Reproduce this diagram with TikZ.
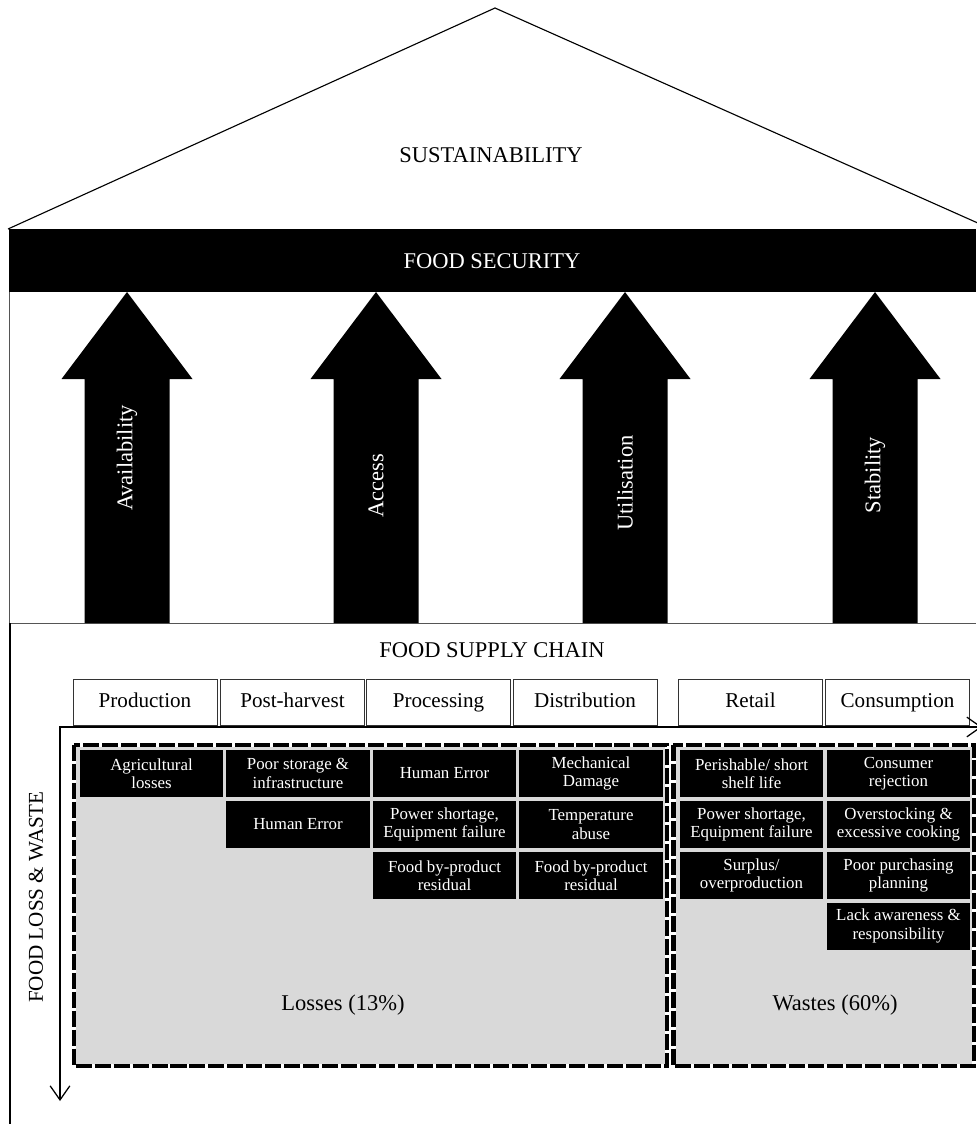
\documentclass[tikz,border=0pt]{standalone}
\usepackage{fontspec}
\setmainfont{Liberation Serif}
\usetikzlibrary{arrows.meta,positioning}

\definecolor{zonegray}{HTML}{D9D9D9}
\definecolor{wallgray}{HTML}{555555}

\tikzset{
  stage/.style={draw=black!80, line width=0.6pt, minimum width=3.6cm, minimum height=1.15cm,
    inner sep=0pt, text height=2ex, text depth=0.45ex, font=\fontsize{15}{17}\selectfont},
  cause/.style={fill=black, text=white, minimum width=3.575cm, minimum height=1.175cm,
    inner sep=0pt, align=center, font=\fontsize{12}{13}\selectfont},
  zone/.style={fill=zonegray, draw=white, line width=3.2pt, outer sep=0pt, inner sep=0pt},
  zoneedge/.style={draw=black, line width=3.2pt, dash pattern=on 11.4pt off 2.1pt},
  pillartext/.style={text=white, rotate=90, font=\fontsize{16}{18}\selectfont},
  title/.style={font=\fontsize{16}{18}\selectfont},
  axis/.style={line width=0.9pt, {Straight Barb[length=10pt,width=14pt]}-{Straight Barb[length=10pt,width=14pt]}},
}

\begin{document}
\begin{tikzpicture}[x=0.025cm, y=-0.025cm]
    \useasboundingbox (0,0) rectangle (976,1124);

    % roof and walls
    \draw[line width=0.8pt] (8,229) -- (495,8) -- (980,224);
    \draw[wallgray, line width=0.7pt] (9,229) -- (9,623) -- (976,623);
    \draw[line width=1.1pt] (10,623) -- (10,1124);
    \node[title] (sust) at (491,155) {SUSTAINABILITY};

    % food security band
    \fill (9,229) rectangle (976,292);
    \node[title, text=white] (fsec) at (492,261) {FOOD SECURITY};

    % pillars
    \foreach \cx/\name/\ty in {127/Availability/458, 376/Access/486, 625/Utilisation/483, 875/Stability/475} {
        \fill (\cx-42.5,623) -- (\cx-42.5,379) -- (\cx-65.5,379) -- (\cx,292)
            -- (\cx+65.5,379) -- (\cx+42.5,379) -- (\cx+42.5,623) -- cycle;
        \node[pillartext] (pillar\cx) at (\cx,\ty) {\name};
    }

    \node[title] (fsc) at (492,650) {FOOD SUPPLY CHAIN};

    % supply chain stages
    \node[stage] (prod) at (145,702) {Production};
    \node[stage] (post) at (292.5,702) {Post-harvest};
    \node[stage] (proc) at (438.5,702) {Processing};
    \node[stage] (dist) at (585,702) {Distribution};
    \node[stage] (retail) at (750.5,702) {Retail};
    \node[stage] (cons) at (897.5,702) {Consumption};

    % loss and waste zones
    \node[zone, minimum width=14.825cm, minimum height=8.025cm] (losses) at (370.5,905.5) {};
    \draw[zoneedge] (losses.north west) rectangle (losses.south east);
    \node[zone, minimum width=7.5125cm, minimum height=8.025cm] (wastes) at (823.75,905.5) {};
    \draw[zoneedge] (wastes.north west) rectangle (wastes.south east);

    \node[title] (losslabel) at (343,1005) {Losses (13\%)};
    \node[title] (wastelabel) at (835,1005) {Wastes (60\%)};

    % axes
    \coordinate (origin) at (60,727);
    \coordinate (chainend) at (982,727);
    \coordinate (lossend) at (60,1101);
    \draw[axis] (lossend) -- (origin) -- (chainend);
    \node[rotate=90, font=\fontsize{15}{17}\selectfont] (flw) at (36,897) {FOOD LOSS \& WASTE};

    % causes
    \node[cause] (agri) at (151.5,773.5) {Agricultural\\losses};
    \node[cause] (storage) at (298,773.5) {Poor storage \&\\infrastructure};
    \node[cause] (humanb) at (298,824.5) {Human Error};
    \node[cause] (humanc) at (444.5,773.5) {Human Error};
    \node[cause] (powerc) at (444.5,824.5) {Power shortage,\\Equipment failure};
    \node[cause] (residc) at (444.5,875.5) {Food by-product\\residual};
    \node[cause] (mech) at (591,773.5) {Mechanical\\Damage};
    \node[cause] (temp) at (591,824.5) {Temperature\\abuse};
    \node[cause] (residd) at (591,875.5) {Food by-product\\residual};

    \node[cause] (perish) at (751.5,773.5) {Perishable/ short\\shelf life};
    \node[cause] (powerr) at (751.5,824.5) {Power shortage,\\Equipment failure};
    \node[cause] (surplus) at (751.5,875.5) {Surplus/\\overproduction};
    \node[cause] (reject) at (898.5,773.5) {Consumer\\rejection};
    \node[cause] (overstock) at (898.5,824.5) {Overstocking \&\\excessive cooking};
    \node[cause] (purchase) at (898.5,875.5) {Poor purchasing\\planning};
    \node[cause] (aware) at (898.5,926) {Lack awareness \&\\responsibility};

\end{tikzpicture}
\end{document}
